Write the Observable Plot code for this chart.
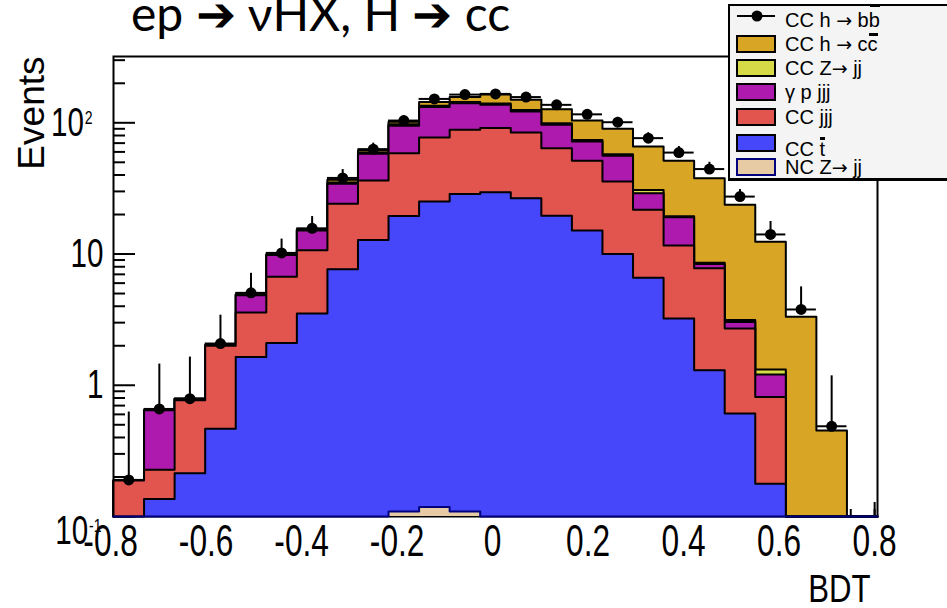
<!DOCTYPE html>
<html><head><meta charset="utf-8">
<script src="https://cdn.jsdelivr.net/npm/d3@7"></script>
<script src="https://cdn.jsdelivr.net/npm/@observablehq/plot@0.6"></script>
<style>
html,body{margin:0;padding:0;background:#fff}
#wrap{position:relative;width:947px;height:608px;overflow:hidden;background:#fff}
#titleSvg{position:absolute;left:0;top:0}
#legend{position:absolute;left:728px;top:4px;width:240px;height:177px;box-sizing:border-box;border:2px solid #000;border-bottom-width:3px;background:#f4f4f4}
.lab{position:absolute;left:785px;white-space:nowrap;font-family:"Liberation Sans",Arial,sans-serif;font-size:20px;line-height:20px;color:#000}
.arr{font-family:"DejaVu Sans",sans-serif;font-size:19px}
.sw{position:absolute;left:736px}
.ov{position:relative;display:inline-block}
.ov::after{content:"";position:absolute;left:1px;right:0;height:3px;background:#000;top:var(--t)}
</style></head>
<body>
<div id="wrap">
<div id="chart"></div>
<svg id="titleSvg" width="947" height="60"><text x="131" y="31" font-family="Lato, 'Open Sans', sans-serif" font-size="48" fill="#000">ep ➔ νHX,  H ➔ cc</text></svg>
<div id="legend"></div>
</div>
<script>
// ---- data (25 BDT bins) ----
const binLo = [-0.794,-0.730,-0.666,-0.602,-0.538,-0.474,-0.410,-0.346,-0.282,-0.218,-0.154,-0.090,-0.026,0.038,0.102,0.166,0.230,0.294,0.358,0.422,0.486,0.550,0.614,0.678,0.742];
const binWidth = 0.064;
const ncZjj = [0,0,0,0,0,0,0,0,0,0.109,0.118,0.109,0,0,0,0,0,0,0,0,0,0,0,0,0];
const ccT   = [0,0.136,0.214,0.467,1.64,2.10,3.53,7.64,12.8,19.4,25.0,28.5,29.6,26.6,19.6,15.1,10.0,6.6,3.23,1.30,0.608,0.178,0,0,0];
const ccJjj = [0.188,0.091,0.554,1.53,1.95,4.61,7.17,16.5,23.5,39.2,52.2,59.9,61.6,57.7,44.5,36.2,25.7,15.1,8.37,6.48,2.10,0.637,0,0,0];
const gpJjj = [0,0.417,0.02,0,1.27,3.11,4.4,10.2,21.7,36.2,54.7,52.5,45.8,37.7,32.5,20.6,20.3,7.4,7.5,0.61,0.33,0.395,0,0,0];
const ccZjj = [0,0,0,0.03,0.05,0.1,0.2,0.8,1.2,2.5,3,3,3,3,2.5,2,1.5,1.7,0.3,0.2,0.1,0.11,0,0,0];
const ccHcc = [0,0,0,0,0.02,0.05,0.15,1.6,2.3,4.6,9,13,24,25,27.9,30.1,32.5,35.1,31.9,29.2,20.56,11.08,3.32,0.453,0];
const ccHbb    = [0.19,0.66,0.79,2.08,5.06,10.2,15.7,38,63,104,152,164,166,157,137,116,101,76.4,59.3,44.4,27.4,14.1,3.78,0.487,null];
const ccHbbUp  = [0.625,1.45,1.64,3.42,7.13,13.0,19.3,44,70,113,163,176,178,169,148,126,110,84,66,50,31,17.7,5.62,1.18,null];
const xTickLabels = [-0.8,-0.6,-0.4,-0.2,0,0.2,0.4,0.6,0.8];
const yTickLabels = [0.1,1,10,100];

// ---- colours ----
const cTan = "#e6cba4", cBlue = "#4646fb", cRed = "#e2544e", cMag = "#ae1aae", cGrn = "#d6da46", cGold = "#d8a524";

// ---- stacking (bottom to top) ----
const yMin = 0.1, yMax = 320;
const layers = [
  {vals: ncZjj, fill: cTan,  stroke: "#00007f"},
  {vals: ccT,   fill: cBlue, stroke: "#000"},
  {vals: ccJjj, fill: cRed,  stroke: "#000"},
  {vals: gpJjj, fill: cMag,  stroke: "#000"},
  {vals: ccZjj, fill: cGrn,  stroke: "#000"},
  {vals: ccHcc, fill: cGold, stroke: "#000"}
];
const running = binLo.map(() => 0);
layers.forEach(L => { L.cum = L.vals.map((v, i) => (running[i] += v)); });

function stepPoints(cum) {
  const pts = [{x: binLo[0], y: yMin}];
  binLo.forEach((lo, i) => {
    const t = Math.max(cum[i], yMin);
    pts.push({x: lo, y: t}, {x: lo + binWidth, y: t});
  });
  pts.push({x: binLo[binLo.length - 1] + binWidth, y: yMin});
  return pts;
}

const W = 947, H = 608, mL = 113, mR = 70, mT = 56, mB = 92;
const fw = W - mL - mR, fh = H - mT - mB;

const yMinor = [];
[0.1, 1, 10, 100].forEach(d => { for (let k = 2; k <= 9; k++) if (d * k <= yMax) yMinor.push(d * k); });
const xMajor = xTickLabels.filter(v => v >= binLo[0] && v <= 0.806);
const xMinor = d3.range(-16, 17).map(k => k * 0.05).filter(v => v >= binLo[0] && v <= 0.806);

const marks = [
  Plot.frame({stroke: "#000", strokeWidth: 2}),
  Plot.tickY(yTickLabels, {y: d => d, insetRight: fw - 22, stroke: "#000", strokeWidth: 2}),
  Plot.tickY(yMinor, {y: d => d, insetRight: fw - 12, stroke: "#000", strokeWidth: 2}),
  Plot.tickX(xMajor, {x: d => d, insetTop: fh - 14, stroke: "#000", strokeWidth: 2}),
  Plot.tickX(xMinor, {x: d => d, insetTop: fh - 7, stroke: "#000", strokeWidth: 2})
];
for (let k = layers.length - 1; k >= 0; k--) {
  const pts = stepPoints(layers[k].cum);
  marks.push(Plot.areaY(pts, {x: "x", y1: () => yMin, y2: "y", fill: layers[k].fill, curve: "linear"}));
  marks.push(Plot.line(pts, {x: "x", y: "y", stroke: layers[k].stroke, strokeWidth: 2, curve: "linear"}));
}
const dataPts = binLo.map((lo, i) => ({lo, hi: lo + binWidth, c: lo + binWidth / 2, v: ccHbb[i], e: ccHbbUp[i]})).filter(d => d.v != null);
marks.push(
  Plot.ruleY(dataPts, {y: "v", x1: "lo", x2: "hi", stroke: "#000", strokeWidth: 2}),
  Plot.ruleX(dataPts, {x: "c", y1: "v", y2: "e", stroke: "#000", strokeWidth: 2}),
  Plot.dot(dataPts, {x: "c", y: "v", r: 5.5, fill: "#000", stroke: "none"}),
  Plot.axisX(xTickLabels, {tickSize: 0, tickPadding: 8, fontSize: 44, label: null,
    tickFormat: d => d === 0 ? "0" : (d < 0 ? "-" : "") + Math.abs(d).toFixed(1)}),
  Plot.axisY(yTickLabels, {tickSize: 0, tickPadding: 10, fontSize: 40, label: null,
    tickFormat: d => d === 100 ? "10^2" : d === 0.1 ? "10^-1" : String(d)}),
  Plot.text(["BDT"], {frameAnchor: "bottom-right", dx: -7, dy: 85, text: d => d, textAnchor: "end", fontSize: 38}),
  Plot.text(["Events"], {frameAnchor: "top-left", dx: -96, dy: 0, text: d => d, rotate: -90, textAnchor: "end", fontSize: 37})
);

const chart = Plot.plot({
  width: W, height: H,
  marginLeft: mL, marginRight: mR, marginTop: mT, marginBottom: mB,
  x: {domain: [binLo[0], binLo[binLo.length - 1] + binWidth]},
  y: {type: "log", domain: [yMin, yMax]},
  style: {fontFamily: "'Liberation Sans', Arial, sans-serif", background: "transparent", color: "#000", overflow: "visible"},
  marks
});
document.getElementById("chart").appendChild(chart);

// condensed look of the ROOT labels: horizontal scale around each label's anchor
function addTransform(el, extra) {
  const tr = el.getAttribute("transform") || "";
  el.setAttribute("transform", (tr + " " + extra).trim());
}
d3.select(chart).selectAll('g[aria-label="y-axis tick label"] text').each(function() {
  const t = d3.select(this);
  const s = t.text();
  if (s.includes("^")) {
    const [b, e] = s.split("^");
    t.text("");
    t.append("tspan").text(b);
    t.append("tspan").attr("dy", "-12").attr("dx", "1").attr("font-size", "19").text(e);
    addTransform(this, e === "2" ? "translate(-11,0)" : "translate(-2,15)");
  }
  addTransform(this, "scale(0.74,1)");
});
d3.select(chart).selectAll('g[aria-label="x-axis tick label"] text').each(function() { addTransform(this, "scale(0.72,1)"); });
d3.select(chart).selectAll('g[aria-label="text"] text').each(function() {
  if (this.textContent === "BDT") addTransform(this, "scale(0.82,1)");
});

// legend
const wrap = document.getElementById("wrap");
const A = '<span class="arr">→</span>';
const legRows = [
  {y: 21, kind: "marker"},
  {y: 44, fill: cGold, stroke: "#000"},
  {y: 68, fill: cGrn, stroke: "#000"},
  {y: 92, fill: cMag, stroke: "#000"},
  {y: 117, fill: cRed, stroke: "#000"},
  {y: 143, fill: cBlue, stroke: "#000"},
  {y: 167, fill: cTan, stroke: "#00007f"}
];
const labelHTML = [
  `CC h ${A} b<span class="ov" style="--t:-6px">b</span>`,
  `CC h ${A} c<span class="ov" style="--t:-1px">c</span>`,
  `CC Z${A} jj`,
  'γ p jjj',
  'CC jjj',
  'CC <span class="ov" style="--t:-2px">t</span>',
  `NC Z${A} jj`
];
const labelDy = [-1, 0, 0, 0, 0, 6, 0];
legRows.forEach((r, i) => {
  const sw = document.createElementNS("http://www.w3.org/2000/svg", "svg");
  sw.setAttribute("class", "sw");
  sw.setAttribute("width", 40); sw.setAttribute("height", 18);
  sw.style.top = (r.y - 9) + "px";
  if (r.kind === "marker") {
    sw.style.top = (r.y - 14) + "px";
    sw.innerHTML = '<line x1="1" x2="39" y1="9" y2="9" stroke="#000" stroke-width="2"/><circle cx="21" cy="9" r="5.5" fill="#000"/>';
  } else {
    sw.innerHTML = `<rect x="1" y="1" width="38" height="16" fill="${r.fill}" stroke="${r.stroke}" stroke-width="2"/>`;
  }
  wrap.appendChild(sw);
  const lab = document.createElement("div");
  lab.className = "lab";
  lab.style.top = (r.y - 10 + labelDy[i]) + "px";
  lab.innerHTML = labelHTML[i];
  wrap.appendChild(lab);
});
</script>
</body></html>
